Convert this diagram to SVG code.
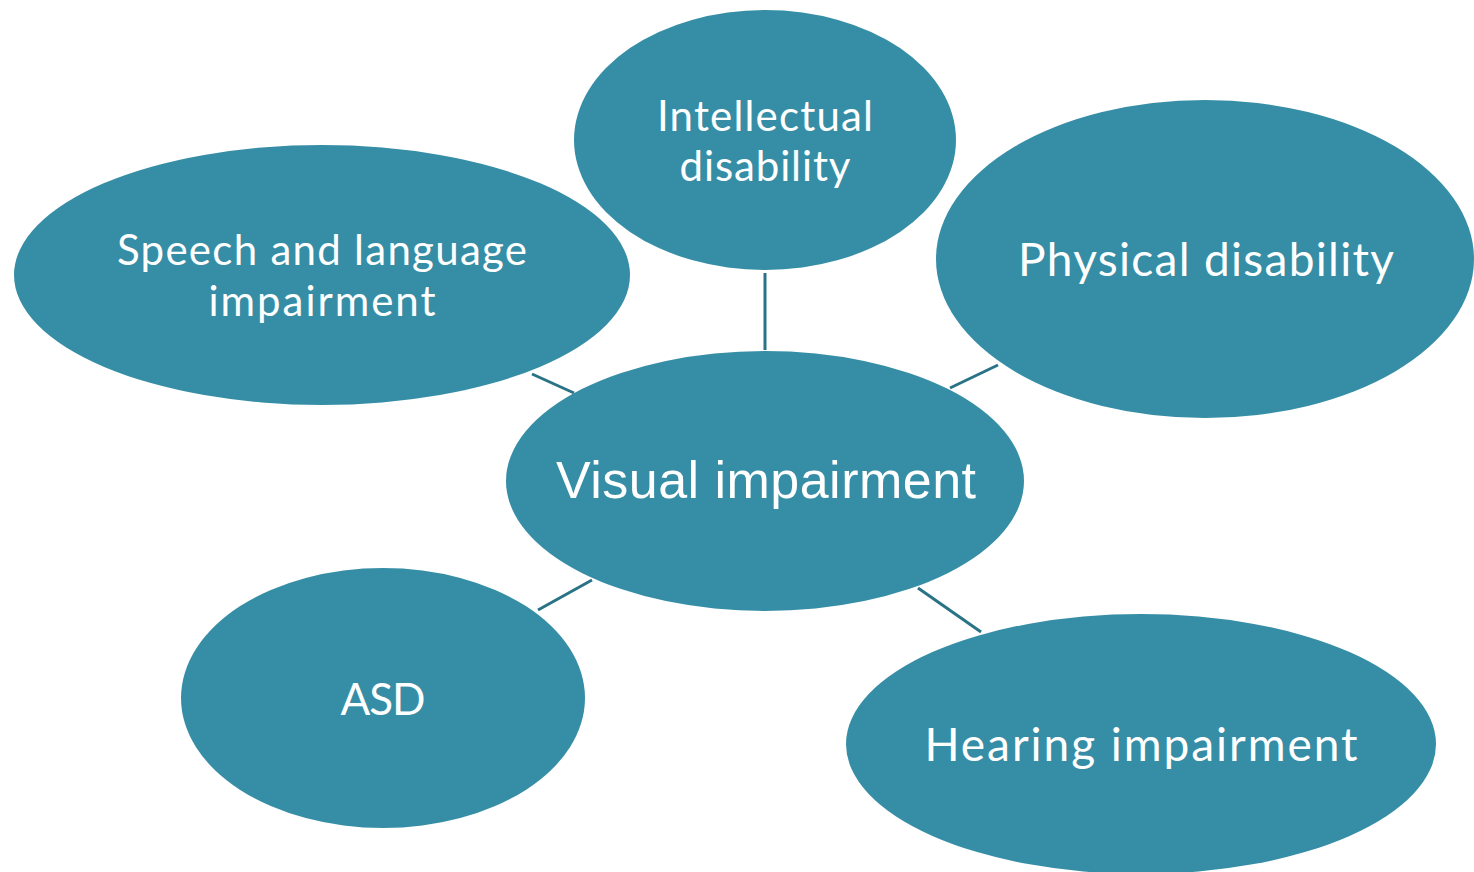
<svg xmlns="http://www.w3.org/2000/svg" width="1474" height="872" viewBox="0 0 1474 872">
<style>
.n{fill:#368ea6;}
.t{fill:#ffffff;font-family:Lato,"Open Sans",sans-serif;text-anchor:middle;}
.a{fill:#ffffff;font-family:"Liberation Sans",Arial,sans-serif;text-anchor:middle;}
.c{stroke:#2a7386;stroke-width:3;fill:none;}
</style>
<rect width="1474" height="872" fill="#ffffff"/>
<g id="connectors">
<line class="c" x1="765" y1="273" x2="765" y2="350"/>
<line class="c" x1="532" y1="374" x2="574" y2="393"/>
<line class="c" x1="950" y1="388" x2="998" y2="365"/>
<line class="c" x1="538" y1="610" x2="592" y2="580"/>
<line class="c" x1="918" y1="588" x2="981" y2="632"/>
</g>
<g id="intellectual">
<ellipse class="n" cx="765" cy="140" rx="191" ry="130"/>
<text class="t" font-size="42" x="765" y="131" textLength="216" lengthAdjust="spacing">Intellectual</text>
<text class="t" font-size="42" x="765" y="181" textLength="171" lengthAdjust="spacing">disability</text>
</g>
<g id="speech">
<ellipse class="n" cx="322" cy="275" rx="308" ry="130"/>
<text class="t" font-size="42" x="322" y="265" textLength="410" lengthAdjust="spacing">Speech and language</text>
<text class="t" font-size="42" x="322" y="316" textLength="227" lengthAdjust="spacing">impairment</text>
</g>
<g id="physical">
<ellipse class="n" cx="1205" cy="259" rx="269" ry="159"/>
<text class="t" font-size="46" x="1206" y="276" textLength="376" lengthAdjust="spacing">Physical disability</text>
</g>
<g id="visual">
<ellipse class="n" cx="765" cy="481" rx="259" ry="130"/>
<text class="a" font-size="52" x="766" y="498" textLength="420" lengthAdjust="spacing">Visual impairment</text>
</g>
<g id="asd">
<ellipse class="n" cx="383" cy="698" rx="202" ry="130"/>
<text class="t" font-size="44" x="383" y="715" textLength="85" lengthAdjust="spacing">ASD</text>
</g>
<g id="hearing">
<ellipse class="n" cx="1141" cy="744" rx="295" ry="130"/>
<text class="t" font-size="46" x="1141" y="761" textLength="433" lengthAdjust="spacing">Hearing impairment</text>
</g>
</svg>
